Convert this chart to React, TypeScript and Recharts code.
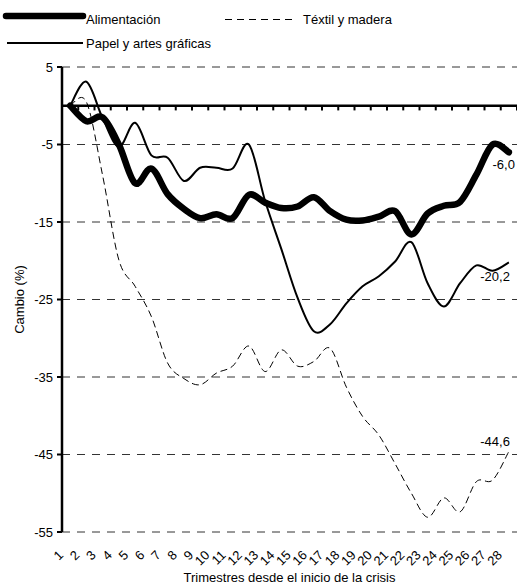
import React from 'react';
import { LineChart, Line, XAxis, YAxis, CartesianGrid, ReferenceLine } from 'recharts';

const trimestres = [
  1, 2, 3, 4, 5, 6, 7, 8, 9, 10, 11, 12, 13, 14,
  15, 16, 17, 18, 19, 20, 21, 22, 23, 24, 25, 26, 27, 28,
];

const alimentacion = [
  0, -2.0, -1.5, -5.0, -10.0, -8.1, -11.4, -13.3, -14.5, -14.0, -14.5, -11.5, -12.5, -13.2,
  -13.0, -11.8, -13.6, -14.7, -14.8, -14.3, -13.6, -16.6, -13.9, -12.9, -12.4, -8.9, -5.0, -6.0,
];

const textil = [
  0, 0.5, -9.0, -19.9, -23.3, -27.2, -33.2, -35.2, -36.0, -34.5, -33.6, -31.0, -34.3, -31.5,
  -33.6, -33.0, -31.3, -36.3, -40.1, -42.5, -46.2, -50.0, -53.1, -50.6, -52.4, -48.5, -48.3, -44.6,
];

const papel = [
  0, 3.1, -1.6, -5.3, -2.2, -6.4, -6.7, -9.7, -8.0, -8.0, -8.1, -5.0, -12.3, -18.5,
  -24.8, -29.1, -28.2, -25.5, -23.3, -22.0, -20.1, -17.6, -22.9, -25.9, -22.9, -20.6, -21.3, -20.2,
];

const yTicks = [5, -5, -15, -25, -35, -45, -55];

const data = trimestres.map((t, i) => ({
  t,
  alimentacion: alimentacion[i],
  textil: textil[i],
  papel: papel[i],
}));

// boundaries between quarters, where the small ticks on the zero line sit
const bounds = [trimestres[0] - 0.5, ...trimestres.map((t) => t + 0.5)];

const FONT = "'Liberation Sans', Arial, sans-serif";

const fmt = (v: number) => v.toFixed(1).replace('.', ',');

// Excel-like smoothed line (Catmull-Rom through every point)
const smooth = (context: any) => {
  let pts: number[][] = [];
  return {
    areaStart() {},
    areaEnd() {},
    lineStart() {
      pts = [];
    },
    point(x: number, y: number) {
      pts.push([+x, +y]);
    },
    lineEnd() {
      if (!pts.length) return;
      context.moveTo(pts[0][0], pts[0][1]);
      for (let i = 0; i < pts.length - 1; i++) {
        const p0 = pts[i - 1] || pts[i];
        const p1 = pts[i];
        const p2 = pts[i + 1];
        const p3 = pts[i + 2] || p2;
        context.bezierCurveTo(
          p1[0] + (p2[0] - p0[0]) / 6,
          p1[1] + (p2[1] - p0[1]) / 6,
          p2[0] - (p3[0] - p1[0]) / 6,
          p2[1] - (p3[1] - p1[1]) / 6,
          p2[0],
          p2[1],
        );
      }
    },
  };
};

const endLabel = (dx: number, dy: number) => (props: any) => {
  const { x, y, value, index } = props;
  if (index !== trimestres.length - 1) return <g />;
  return (
    <text
      x={x + dx}
      y={y + dy}
      textAnchor="end"
      dominantBaseline="central"
      fontSize={13}
      fontFamily={FONT}
      fill="#000"
    >
      {fmt(value)}
    </text>
  );
};

const XTick = (props: any) => {
  const { x, y, payload } = props;
  return (
    <text
      x={0}
      y={0}
      transform={`translate(${x - 6},${y + 24}) rotate(-45)`}
      textAnchor="end"
      fontSize={13}
      fontFamily={FONT}
      fill="#000"
    >
      {payload.value}
    </text>
  );
};

const YTitle = (props: any) => {
  const vb = props.viewBox || { x: 0, y: 67, width: 62, height: 465 };
  const cx = 19;
  const cy = vb.y + vb.height / 2;
  return (
    <text
      x={cx}
      y={cy}
      transform={`rotate(-90 ${cx} ${cy})`}
      textAnchor="middle"
      dominantBaseline="central"
      fontSize={13}
      fontFamily={FONT}
      fill="#000"
    >
      Cambio (%)
    </text>
  );
};

const Legend = () => (
  <svg
    width={517}
    height={60}
    style={{ position: 'absolute', left: 0, top: 0 }}
    fontFamily={FONT}
    fontSize={13}
  >
    <line x1={6} y1={16} x2={83} y2={16} stroke="#000" strokeWidth={6.5} strokeLinecap="round" />
    <text x={86} y={24} fill="#000">Alimentación</text>
    <line x1={225} y1={19.5} x2={293} y2={19.5} stroke="#000" strokeWidth={1} strokeDasharray="7 5" />
    <text x={303} y={24} fill="#000">Téxtil y madera</text>
    <line x1={7} y1={43} x2={83} y2={43} stroke="#000" strokeWidth={2} />
    <text x={86} y={48} fill="#000">Papel y artes gráficas</text>
  </svg>
);

export default function App() {
  return (
    <div style={{ position: 'absolute', left: 0, top: 0, width: 517, height: 585, background: '#fff' }}>
      <LineChart
        width={517}
        height={585}
        data={data}
        margin={{ top: 67, right: 0, bottom: 0, left: 0 }}
        style={{ fontFamily: FONT }}
      >
        <CartesianGrid vertical={false} stroke="#333" strokeDasharray="8 7" />
        <XAxis
          dataKey="t"
          type="number"
          domain={[0.5, 28.5]}
          ticks={trimestres}
          interval={0}
          axisLine={false}
          tickLine={false}
          tickSize={0}
          tickMargin={0}
          height={53}
          tick={<XTick />}
          label={{
            value: 'Trimestres desde el inicio de la crisis',
            position: 'insideBottom',
            offset: 3,
            fill: '#000',
            fontSize: 13,
          }}
        />
        <YAxis
          type="number"
          domain={[-55, 5]}
          ticks={yTicks}
          interval={0}
          width={62}
          axisLine={{ stroke: '#000', strokeWidth: 2.5 }}
          tickLine={{ stroke: '#000', strokeWidth: 2 }}
          tickSize={5}
          tickMargin={4}
          tick={{ fill: '#000', fontSize: 13 }}
          label={<YTitle />}
        />
        <ReferenceLine y={0} stroke="#000" strokeWidth={2.5} />
        {bounds.map((b) => (
          <ReferenceLine
            key={b}
            segment={[{ x: b, y: 0 }, { x: b, y: -0.6 }]}
            stroke="#000"
            strokeWidth={2}
          />
        ))}
        <Line
          dataKey="textil"
          name="Téxtil y madera"
          type={smooth as any}
          stroke="#000"
          strokeWidth={1}
          strokeDasharray="7 4"
          dot={false}
          activeDot={false}
          isAnimationActive={false}
          label={endLabel(1, -10)}
        />
        <Line
          dataKey="alimentacion"
          name="Alimentación"
          type={smooth as any}
          stroke="#000"
          strokeWidth={6.5}
          strokeLinejoin="round"
          strokeLinecap="round"
          dot={false}
          activeDot={false}
          isAnimationActive={false}
          label={endLabel(6, 12)}
        />
        <Line
          dataKey="papel"
          name="Papel y artes gráficas"
          type={smooth as any}
          stroke="#000"
          strokeWidth={2}
          dot={false}
          activeDot={false}
          isAnimationActive={false}
          label={endLabel(1, 14)}
        />
      </LineChart>
      <Legend />
    </div>
  );
}
